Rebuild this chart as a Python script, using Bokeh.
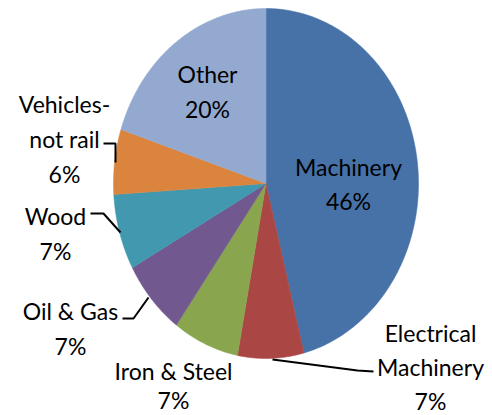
import numpy as np
from bokeh.plotting import figure
from bokeh.models import Range1d, ColumnDataSource
from bokeh.core.properties import value
from bokeh.embed import file_html
from bokeh.resources import INLINE

# ---- data ----
categories = ["Machinery", "Electrical Machinery", "Iron & Steel", "Oil & Gas",
              "Wood", "Vehicles-not rail", "Other"]
shares = [46, 7, 7, 7, 7, 6, 20]
colors = ["#4672A8", "#AA4643", "#89A54E", "#71588F", "#4198AF", "#DB843D", "#93A9CF"]
label_lines = [["Machinery", "46%"], ["Electrical", "Machinery", "7%"],
               ["Iron & Steel", "7%"], ["Oil & Gas", "7%"], ["Wood", "7%"],
               ["Vehicles-", "not rail", "6%"], ["Other", "20%"]]

# ---- layout (screen-like coordinates, y downward) ----
W, H = 492, 415
cx, cy, rx, ry = 265.5, 183.0, 152.5, 175.0
label_pos = [(348, 166), (430, 332), (173, 370), (70, 310), (55, 215), (64, 103), (207, 73)]
line_gap = [34, 34, 29, 35, 35, 35, 35]
leaders = {
    "Electrical Machinery": ([272, 357, 373], [359, 370, 371]),
    "Oil & Gas": ([122, 133, 148], [318, 318, 297]),
    "Wood": ([90, 103, 120], [213, 213, 232]),
    "Vehicles-not rail": ([103, 115, 115], [143, 143, 162]),
}

p = figure(width=W, height=H, output_backend="svg", toolbar_location=None,
           x_range=Range1d(0, W), y_range=Range1d(H, 0), min_border=0)
p.axis.visible = False
p.grid.visible = False
p.outline_line_color = None
p.background_fill_color = "white"
p.border_fill_color = "white"

vals = np.array(shares, dtype=float)
fr = vals / vals.sum()
ends = np.cumsum(fr)
starts = ends - fr
xs, ys = [], []
for s, e in zip(starts, ends):
    th = np.deg2rad(90 - 360 * np.linspace(s, e, max(int((e - s) * 400), 8)))
    xs.append([cx] + list(cx + rx * np.cos(th)) + [cx])
    ys.append([cy] + list(cy - ry * np.sin(th)) + [cy])
src = ColumnDataSource(dict(xs=xs, ys=ys, color=colors, cat=categories))
p.patches("xs", "ys", fill_color="color", line_color="color", line_width=0.5, source=src)

for name, (lx, ly) in leaders.items():
    p.line(lx, ly, line_color="black", line_width=2)

tx, ty, tt = [], [], []
for lines, (x0, y0), g in zip(label_lines, label_pos, line_gap):
    for i, t in enumerate(lines):
        tx.append(x0)
        ty.append(y0 + i * g)
        tt.append(t)
p.text(tx, ty, text=tt, text_align="center", text_baseline="middle",
       text_font=value("Lato"), text_font_size="23px", text_color="black")

open("out.html", "w").write(file_html(p, INLINE))
